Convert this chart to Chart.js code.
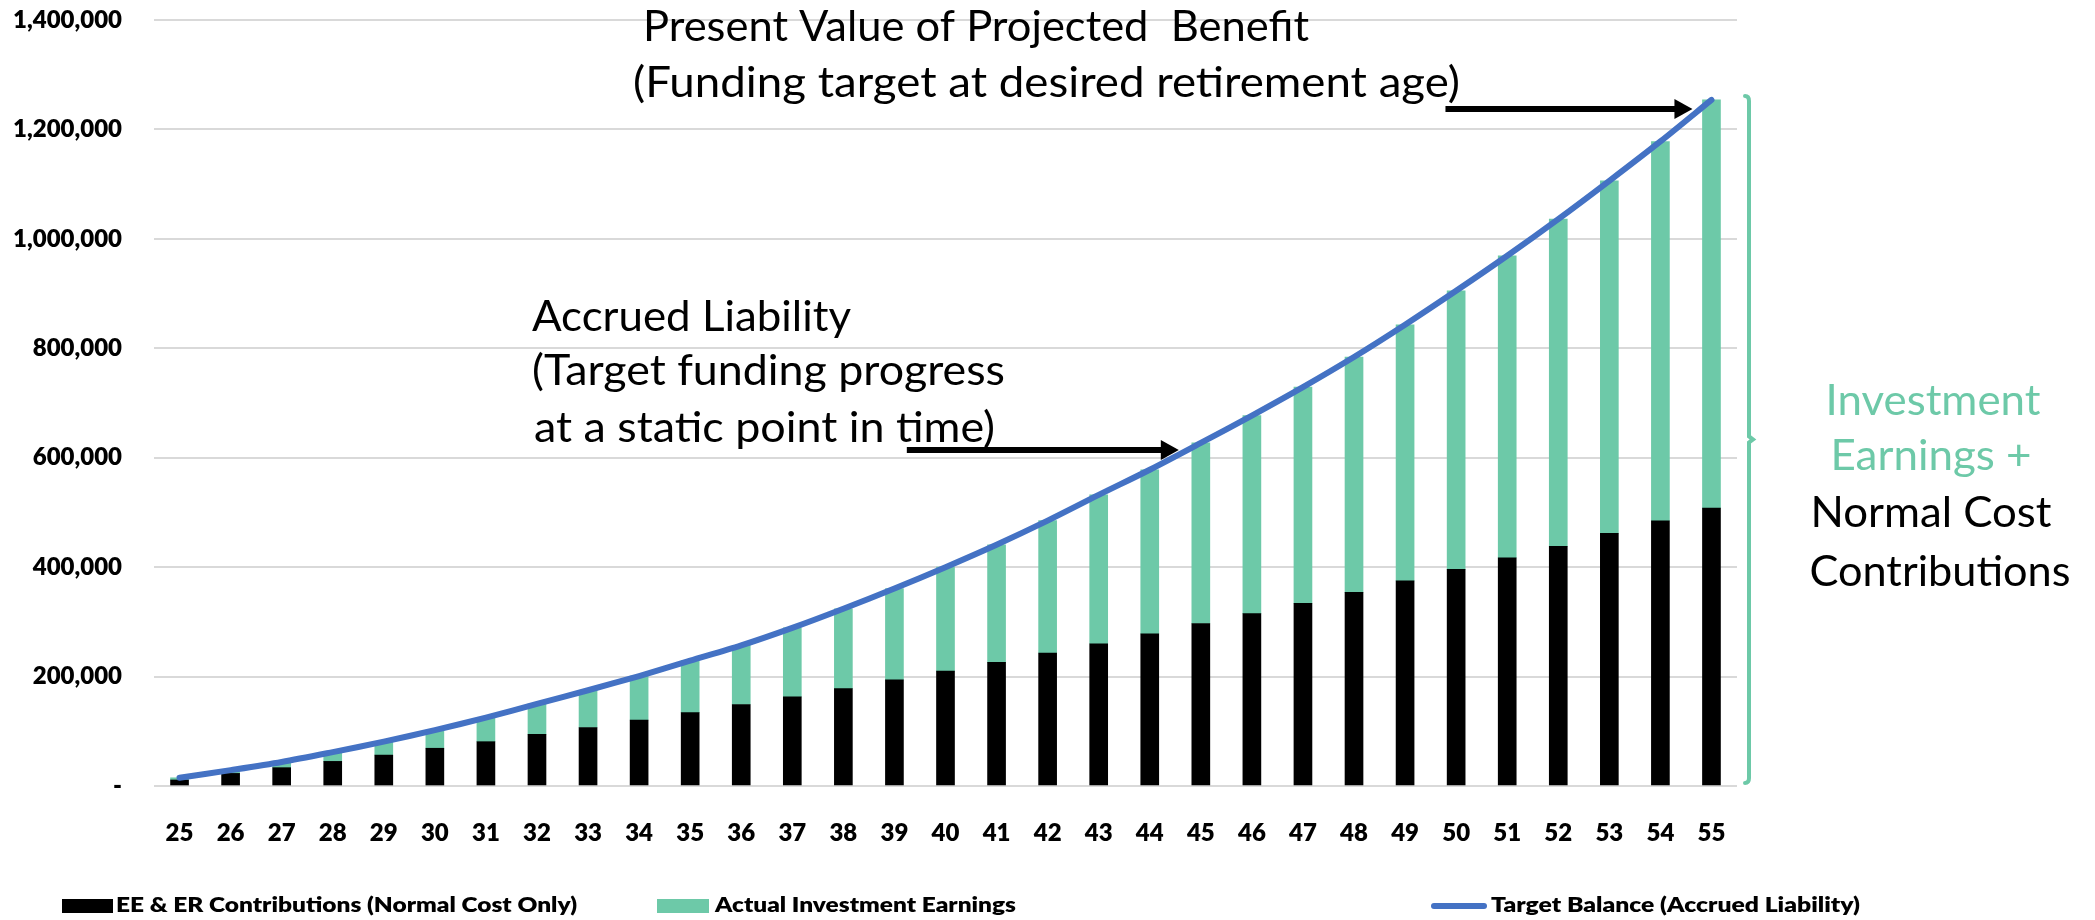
<!DOCTYPE html>
<html>
<head>
<meta charset="utf-8">
<script src="https://cdn.jsdelivr.net/npm/chart.js@4.4.0/dist/chart.umd.min.js"></script>
<style>
  html, body { margin: 0; padding: 0; background: #fff; }
  #wrap { position: relative; width: 2095px; height: 920px; }
</style>
</head>
<body>
<div id="wrap"><canvas id="chart"></canvas></div>
<script>
// ages on the x axis
const ages = ['25', '26', '27', '28', '29', '30', '31', '32', '33', '34', '35', '36', '37', '38', '39', '40',
  '41', '42', '43', '44', '45', '46', '47', '48', '49', '50', '51', '52', '53', '54', '55'];

// EE & ER contributions (normal cost only), black part of each bar
const contributions = [11000, 23000, 33500, 45000, 56500, 69000, 81000, 94500, 107000, 120500, 134000,
  149000, 163000, 178000, 194000, 210000, 226000, 243000, 260000, 278000, 297000,
  315000, 334000, 354000, 375000, 396000, 417000, 438000, 462000, 484500, 508000];

// actual investment earnings, green part stacked on top
const earnings = [4000, 6000, 10500, 17000, 24500, 33000, 44000, 55500, 68000, 80500, 95000,
  108000, 126000, 146000, 167000, 190000, 215000, 242000, 272000, 300000, 330000,
  362000, 395000, 430000, 468000, 509000, 552000, 598000, 644000, 693500, 746000];

// target balance (accrued liability), blue line
const targetBalance = [15000, 29000, 44000, 62000, 81000, 102000, 125000, 150000, 175000, 201000, 229000,
  257000, 289000, 324000, 361000, 400000, 441000, 485000, 532000, 578000, 627000,
  677000, 729000, 784000, 843000, 905000, 969000, 1036000, 1106000, 1178000, 1254000];

const GREEN = '#6DC9A8';
const BLUE = '#4472C4';
const FONT = 'Lato, "Open Sans", sans-serif';

// draw text squeezed/stretched to a given width
function fitText(ctx, text, x, y, width, align) {
  const w = ctx.measureText(text).width;
  const sx = width / w;
  ctx.save();
  ctx.translate(x, y);
  ctx.scale(sx, 1);
  ctx.textAlign = align;
  ctx.fillText(text, 0, 0);
  ctx.restore();
}

function arrow(ctx, x1, x2, y) {
  ctx.save();
  ctx.strokeStyle = '#000';
  ctx.fillStyle = '#000';
  ctx.lineWidth = 6;
  ctx.beginPath();
  ctx.moveTo(x1, y);
  ctx.lineTo(x2 - 15, y);
  ctx.stroke();
  ctx.beginPath();
  ctx.moveTo(x2, y);
  ctx.lineTo(x2 - 18, y - 10);
  ctx.lineTo(x2 - 18, y + 10);
  ctx.closePath();
  ctx.fill();
  ctx.restore();
}

const notes = {
  id: 'notes',
  afterDraw(chart) {
    const ctx = chart.ctx;
    const xs = chart.scales.x;
    const ys = chart.scales.y;
    const last = ages.length - 1;

    // annotation texts
    ctx.save();
    ctx.font = '42px ' + FONT;
    ctx.textBaseline = 'middle';
    ctx.fillStyle = '#000';
    fitText(ctx, 'Present Value of Projected  Benefit', 643, 27, 666, 'left');
    fitText(ctx, '(Funding target at desired retirement age)', 633, 83, 827, 'left');
    fitText(ctx, 'Accrued Liability', 532, 317, 319, 'left');
    fitText(ctx, '(Target funding progress', 532, 371, 473, 'left');
    fitText(ctx, 'at a static point in time)', 534, 428, 461, 'left');
    ctx.fillStyle = GREEN;
    fitText(ctx, 'Investment', 1933, 401, 215, 'center');
    fitText(ctx, 'Earnings +', 1931, 456, 201, 'center');
    ctx.fillStyle = '#000';
    fitText(ctx, 'Normal Cost', 1931, 513, 241, 'center');
    fitText(ctx, 'Contributions', 1940, 572, 261, 'center');
    ctx.restore();

    // arrows pointing at the target balance line
    const tipTop = xs.getPixelForValue(last) - 19;
    arrow(ctx, tipTop - 247, tipTop, ys.getPixelForValue(targetBalance[last]) + 9);
    const tipMid = xs.getPixelForValue(20) - 22;
    arrow(ctx, tipMid - 272, tipMid, ys.getPixelForValue(targetBalance[20]) + 7);

    // bracket to the right of the last bar
    const bx = chart.chartArea.right + 12;
    const top = ys.getPixelForValue(targetBalance[last]) - 4;
    const bottom = ys.getPixelForValue(0) - 3;
    const mid = (top + bottom) / 2;
    ctx.save();
    ctx.strokeStyle = GREEN;
    ctx.lineWidth = 4;
    ctx.lineCap = 'round';
    ctx.beginPath();
    ctx.moveTo(bx - 4, top);
    ctx.quadraticCurveTo(bx, top, bx, top + 5);
    ctx.lineTo(bx, mid - 3);
    ctx.lineTo(bx + 4, mid);
    ctx.lineTo(bx, mid + 3);
    ctx.lineTo(bx, bottom - 5);
    ctx.quadraticCurveTo(bx, bottom, bx - 4, bottom);
    ctx.stroke();
    ctx.restore();

    // legend, laid out like the original
    const ds = chart.data.datasets;
    ctx.save();
    ctx.font = '800 20px ' + FONT;
    ctx.textBaseline = 'middle';
    ctx.fillStyle = ds[0].backgroundColor;
    ctx.fillRect(62, 899, 51, 14);
    ctx.fillStyle = ds[1].backgroundColor;
    ctx.fillRect(657, 899, 52, 14);
    ctx.strokeStyle = ds[2].borderColor;
    ctx.lineWidth = 6;
    ctx.lineCap = 'round';
    ctx.beginPath();
    ctx.moveTo(1434, 906);
    ctx.lineTo(1484, 906);
    ctx.stroke();
    ctx.fillStyle = '#000';
    fitText(ctx, ds[0].label, 116, 906, 461, 'left');
    fitText(ctx, ds[1].label, 715, 906, 301, 'left');
    fitText(ctx, ds[2].label, 1491, 906, 369, 'left');
    ctx.restore();
  }
};

Chart.defaults.font.family = FONT;

new Chart(document.getElementById('chart'), {
  type: 'bar',
  data: {
    labels: ages,
    datasets: [
      {
        label: 'EE & ER Contributions (Normal Cost Only)',
        data: contributions,
        backgroundColor: '#000000',
        barThickness: 18,
        stack: 'a',
        order: 1
      },
      {
        label: 'Actual Investment Earnings',
        data: earnings,
        backgroundColor: GREEN,
        barThickness: 18,
        stack: 'a',
        order: 1
      },
      {
        type: 'line',
        label: 'Target Balance (Accrued Liability)',
        data: targetBalance,
        borderColor: BLUE,
        backgroundColor: BLUE,
        borderWidth: 6,
        borderCapStyle: 'round',
        pointRadius: 0,
        tension: 0.3,
        order: 0
      }
    ]
  },
  options: {
    responsive: true,
    maintainAspectRatio: false,
    animation: false,
    layout: { padding: { top: 20, right: 358, bottom: 0, left: 0 } },
    plugins: {
      legend: { display: false },
      tooltip: { enabled: false }
    },
    scales: {
      x: {
        stacked: true,
        grid: { display: false, drawTicks: false },
        border: { display: false },
        ticks: {
          padding: 33,
          color: '#000',
          font: { size: 24, weight: '800' },
          maxRotation: 0
        },
        afterFit(scale) {
          scale.height = 134;
          scale.paddingLeft = 0;
          scale.paddingRight = 0;
        }
      },
      y: {
        stacked: true,
        min: 0,
        max: 1400000,
        grid: { color: '#D9D9D9', lineWidth: 2, drawTicks: false },
        border: { display: false },
        ticks: {
          stepSize: 200000,
          padding: 32,
          color: '#000',
          font: { size: 24, weight: '800' },
          callback: v => v === 0 ? '-' : v.toLocaleString('en-US')
        },
        afterFit(scale) {
          scale.width = 154;
          scale.paddingTop = 0;
          scale.paddingBottom = 0;
        }
      }
    }
  },
  plugins: [notes]
});
</script>
</body>
</html>
